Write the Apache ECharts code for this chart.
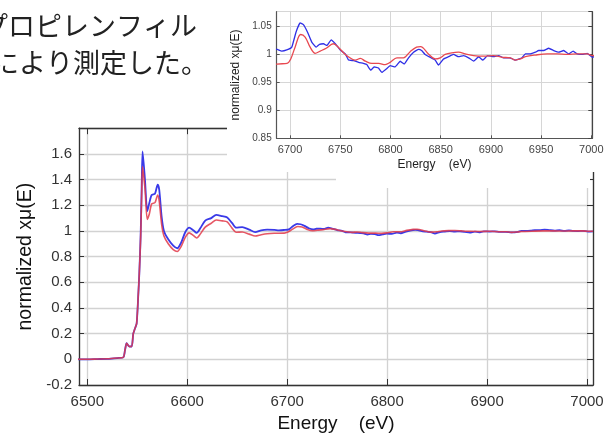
<!DOCTYPE html>
<html>
<head>
<meta charset="utf-8">
<script src="https://cdn.jsdelivr.net/npm/echarts@6/dist/echarts.min.js"></script>
<style>
html,body{margin:0;padding:0;background:#fff;}
#c{width:611px;height:438px;}
</style>
</head>
<body>
<div id="c"></div>
<script>
// ---- data ----
const blueE = [6490,6500,6510,6520,6530,6536,6537.7,6539.4,6542,6544.4,6546,6547.7,6549.4,6551,6552,6553.4,6554.4,6555.3,6557.7,6560,6562,6564.4,6567.7,6570.4,6572,6574.4,6576.7,6581,6586,6590,6594,6598,6602,6606,6609.5,6613,6618,6624,6629,6635,6640,6645,6649,6655,6662,6668,6674,6680,
  6687.3,6691.7,6696.7,6701.7,6706,6710,6713.3,6717.3,6721.6,6726,6729.3,6733.3,6736.6,6741,6745,6750,6755,6758.3,6763.3,6768.3,6773,6776.4,6780.4,6783.7,6788,6791.4,6795.7,6799.7,6804.7,6809.7,6813.7,6818,6823,6828,6831,6834.5,6839.5,6844.5,6847.8,6852.8,6857.8,6862.8,6867.8,6872.8,6877.8,6882.8,6887.8,6892,6896.7,6902.7,6907.7,6912.7,6918.7,6924.3,6931,6934.3,6939.3,6944.3,6947.6,6952.6,6957.6,6962.6,6967.6,6972.5,6977.5,6981.9,6985.9,6990.9,6995.9,7001,7006];
const blueMu = [0,0,0.002,0.004,0.01,0.015,0.07,0.125,0.10,0.10,0.20,0.24,0.28,0.5,0.66,0.97,1.33,1.62,1.40,1.155,1.215,1.28,1.29,1.36,1.32,1.11,1.0,0.935,0.885,0.865,0.91,0.99,1.025,1.005,0.985,1.02,1.08,1.10,1.125,1.115,1.105,1.06,1.025,1.03,1.01,0.99,1.005,1.01,
  1.008,1.005,1.007,1.012,1.039,1.055,1.052,1.039,1.021,1.012,1.017,1.018,1.015,1.025,1.018,1.007,1.0,0.989,0.988,0.985,0.983,0.981,0.971,0.977,0.975,0.967,0.973,0.979,0.977,0.987,0.982,0.993,1.003,1.008,1.006,0.999,0.994,0.989,0.98,0.991,0.995,0.999,0.995,0.997,0.993,0.987,0.995,0.989,0.997,0.995,0.997,0.993,0.993,0.989,0.993,1.0,1.0,1.003,1.006,1.006,1.01,1.006,1.003,1.006,1.0,1.005,1.0,0.999,1.001,0.994,0.997];

const redE = [6490,6500,6510,6520,6530,6536,6537.7,6539.4,6542,6544.4,6546,6547.7,6549.4,6551,6552,6553.4,6554.4,6555.3,6557.7,6560,6562,6564.4,6567.7,6570.4,6572,6574.4,6576.7,6581,6586,6590,6594,6598,6602,6606,6609.5,6613,6618,6624,6629,6635,6640,6645,6649,6655,6662,6668,6674,6680,
  6687,6697,6700.7,6705,6710.6,6715,6720,6725,6730,6736,6743,6748,6755,6761.6,6765,6770,6775,6781.6,6788.3,6794.7,6799.7,6806.4,6813,6819.6,6826,6830,6837.8,6844.5,6849.5,6854.5,6861.2,6867.8,6874.5,6882.8,6892.8,6902.7,6911,6919.5,6924.3,6929.3,6934.3,6944.3,6956,6966,6976,6986,6996,7001,7006];
const redMu = [0,0,0.002,0.004,0.01,0.015,0.07,0.125,0.10,0.10,0.20,0.24,0.28,0.5,0.66,0.95,1.28,1.50,1.33,1.09,1.13,1.21,1.22,1.28,1.23,1.05,0.96,0.90,0.855,0.84,0.88,0.95,0.985,0.965,0.945,0.975,1.03,1.06,1.085,1.078,1.07,1.02,0.99,0.992,0.975,0.96,0.97,0.978,
  0.982,0.983,0.991,1.012,1.0345,1.03,1.012,1.001,1.005,1.01,1.018,1.012,0.999,0.991,0.989,0.992,0.987,0.983,0.983,0.981,0.985,0.993,0.993,1.004,1.012,1.013,1.0,0.991,0.993,0.999,1.002,1.003,1.0,0.997,0.996,0.997,0.994,0.993,0.989,0.991,0.995,0.998,1.0,1.0,0.999,1.0,1.0,0.997,0.998];

const xNameMain = 'Energy    (eV)';
const yNameMain = 'normalized xμ(E)';
const textLines = ['プロピレンフィル', 'により測定した。'];

// ---- chart ----
const pair = (xs, ys) => xs.map((x, i) => [x, ys[i]]);
const FONT = '"Liberation Sans", Arial, sans-serif';
const chart = echarts.init(document.getElementById('c'), null, {renderer: 'canvas'});

const mainGridLine = {show: true, lineStyle: {color: '#d2d2d2', width: 1.3}};
const insetGridLine = {show: true, lineStyle: {color: '#d6d6d6', width: 1}};

chart.setOption({
  animation: false,
  backgroundColor: '#fff',
  grid: [
    {left: 79, right: 18, top: 128.2, bottom: 47, containLabel: false},
    {left: 276.7, right: 18.7, top: 11.7, bottom: 299.7, containLabel: false}
  ],
  xAxis: [
    {gridIndex: 0, type: 'value', min: 6491.7, max: 7006, splitNumber: 5,
     axisLine: {show: true, onZero: false, lineStyle: {color: '#333', width: 1.3}},
     axisTick: {show: true, inside: true, length: 6, lineStyle: {color: '#333'}},
     axisLabel: {fontSize: 15, color: '#333', fontFamily: FONT, margin: 9,
       formatter: v => (Math.abs(v % 100) < 1e-6 ? String(v) : '')},
     splitLine: mainGridLine,
     name: xNameMain, nameLocation: 'middle', nameGap: 29,
     nameTextStyle: {fontSize: 19, color: '#111', fontFamily: FONT}},
    {gridIndex: 0, type: 'value', position: 'top', min: 6491.7, max: 7006, splitNumber: 5,
     axisLine: {show: true, onZero: false, lineStyle: {color: '#333', width: 1.3}},
     axisTick: {show: true, inside: true, length: 6, lineStyle: {color: '#333'}},
     axisLabel: {show: false}, splitLine: {show: false}},
    {gridIndex: 1, type: 'value', min: 6686.7, max: 7001, splitNumber: 6, z: 20,
     axisLine: {show: true, onZero: false, lineStyle: {color: '#555', width: 1.2}},
     axisTick: {show: true, inside: true, length: 3, lineStyle: {color: '#555'}},
     axisLabel: {fontSize: 11, color: '#444', fontFamily: FONT, margin: 6,
       formatter: v => (Math.abs(v % 50) < 1e-6 ? String(v) : '')},
     splitLine: insetGridLine,
     name: xNameMain, nameLocation: 'middle', nameGap: 20,
     nameTextStyle: {fontSize: 12, color: '#222', fontFamily: FONT}}
  ],
  yAxis: [
    {gridIndex: 0, type: 'value', min: -0.2, max: 1.8, interval: 0.2,
     axisLine: {show: true, onZero: false, lineStyle: {color: '#333', width: 1.3}},
     axisTick: {show: true, inside: true, length: 5, lineStyle: {color: '#333'}},
     axisLabel: {fontSize: 15, color: '#333', fontFamily: FONT, margin: 7, showMaxLabel: false,
       formatter: v => String(Math.round(v * 10) / 10)},
     splitLine: mainGridLine,
     name: yNameMain, nameLocation: 'middle', nameGap: 43, nameRotate: 90,
     nameTextStyle: {fontSize: 19.5, color: '#111', fontFamily: FONT}},
    {gridIndex: 0, type: 'value', position: 'right', min: -0.2, max: 1.8, interval: 0.2,
     axisLine: {show: true, onZero: false, lineStyle: {color: '#333', width: 1.3}},
     axisTick: {show: true, inside: true, length: 6, lineStyle: {color: '#333'}},
     axisLabel: {show: false}, splitLine: {show: false}},
    {gridIndex: 1, type: 'value', min: 0.85, max: 1.075, interval: 0.05, z: 20,
     axisLine: {show: true, onZero: false, lineStyle: {color: '#555', width: 1.2}},
     axisTick: {show: true, inside: true, length: 3, lineStyle: {color: '#555'}},
     axisLabel: {fontSize: 10, color: '#444', fontFamily: FONT, margin: 5, showMaxLabel: false,
       formatter: v => String(Math.round(v * 100) / 100)},
     splitLine: insetGridLine,
     name: yNameMain, nameLocation: 'middle', nameGap: 31, nameRotate: 90,
     nameTextStyle: {fontSize: 12, color: '#222', fontFamily: FONT}},
    {gridIndex: 1, type: 'value', position: 'right', min: 0.85, max: 1.075, interval: 0.05, z: 20,
     axisLine: {show: true, onZero: false, lineStyle: {color: '#444', width: 1.2}},
     axisTick: {show: true, inside: true, length: 4, lineStyle: {color: '#444'}},
     axisLabel: {show: false}, splitLine: {show: false}}
  ],
  series: [
    {type: 'line', xAxisIndex: 0, yAxisIndex: 0, data: pair(blueE, blueMu), showSymbol: false,
     smooth: 0.25, lineStyle: {color: '#3a3ae8', width: 1.8}, itemStyle: {color: '#3a3ae8'}, z: 2},
    {type: 'line', xAxisIndex: 0, yAxisIndex: 0, data: pair(redE, redMu), showSymbol: false,
     smooth: 0.25, lineStyle: {color: '#e23a4a', width: 1.6, opacity: 0.85}, itemStyle: {color: '#e23a4a'}, z: 3},
    {type: 'line', xAxisIndex: 2, yAxisIndex: 2, data: pair(blueE, blueMu), showSymbol: false,
     smooth: 0.1, lineStyle: {color: '#2f2fe6', width: 1.3}, itemStyle: {color: '#2f2fe6'}, z: 30},
    {type: 'line', xAxisIndex: 2, yAxisIndex: 2, data: pair(redE, redMu), showSymbol: false,
     smooth: 0.35, lineStyle: {color: '#e84850', width: 1.3}, itemStyle: {color: '#e84850'}, z: 31}
  ],
  graphic: {elements: [
    {type: 'rect', shape: {x: 227, y: 0, width: 384, height: 172}, style: {fill: '#fff'}, z: 10, silent: true},
    {type: 'rect', shape: {x: 336, y: 0, width: 254, height: 188}, style: {fill: '#fff'}, z: 10, silent: true},
    {type: 'text', x: -19, y: 26, z: 40, style: {text: textLines[0], fontSize: 27, fill: '#222',
      fontFamily: '"Noto Sans CJK JP", sans-serif', verticalAlign: 'middle', align: 'left'}},
    {type: 'text', x: -8, y: 63, z: 40, style: {text: textLines[1], fontSize: 27, fill: '#222',
      fontFamily: '"Noto Sans CJK JP", sans-serif', verticalAlign: 'middle', align: 'left'}}
  ]}
});
</script>
</body>
</html>
